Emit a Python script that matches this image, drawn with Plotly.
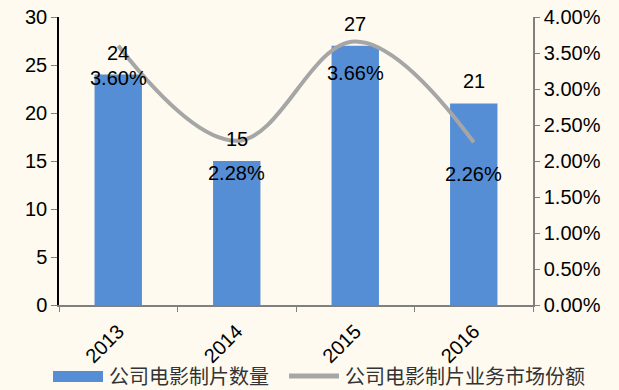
import plotly.graph_objects as go

years = ["2013", "2014", "2015", "2016"]
film_count = [24, 15, 27, 21]
market_share = [0.0360, 0.0228, 0.0366, 0.0226]
share_labels = ["3.60%", "2.28%", "3.66%", "2.26%"]
y_left_ticks = [0, 5, 10, 15, 20, 25, 30]
y_right_ticks = [0, 0.005, 0.01, 0.015, 0.02, 0.025, 0.03, 0.035, 0.04]
legend_names = ["公司电影制片数量", "公司电影制片业务市场份额"]

BG = "#FEFAF0"
BAR = "#558ED5"
LINE = "#A6A6A6"
FONT = "Liberation Sans, Arial, sans-serif"
CJK = "Noto Sans CJK SC, sans-serif"
FS = 20

fig = go.Figure()
fig.add_trace(go.Bar(
    x=years, y=film_count, marker_color=BAR, marker_line_width=0,
    width=0.4, name=legend_names[0], showlegend=False, yaxis="y",
))
fig.add_trace(go.Scatter(
    x=years, y=market_share, mode="lines", name=legend_names[1],
    line=dict(color=LINE, width=4, shape="spline", smoothing=1.1),
    yaxis="y2", showlegend=False,
))

# value labels above bars (x given as category index)
for i, v in enumerate(film_count):
    fig.add_annotation(x=i, y=v, xref="x", yref="y", text=str(v), showarrow=False,
                       yshift=22, font=dict(size=FS, color="#000", family=FONT))
# share labels below the line points
for i, (v, t) in enumerate(zip(market_share, share_labels)):
    fig.add_annotation(x=i, y=v, xref="x", yref="y2", text=t, showarrow=False,
                       yshift=-32, font=dict(size=FS, color="#000", family=FONT))

# legend drawn below the plot
LEG_Y = -(375 - 305) / 288
fig.add_shape(type="rect", xref="paper", yref="paper",
              x0=(53 - 59) / 474, x1=(103 - 59) / 474,
              y0=-(371 - 305) / 288, y1=-(382 - 305) / 288,
              fillcolor=BAR, line_width=0)
fig.add_annotation(xref="paper", yref="paper", x=(107 - 59) / 474, y=LEG_Y,
                   text=legend_names[0], showarrow=False, xanchor="left", yanchor="middle",
                   font=dict(size=20, color="#333", family=CJK))
fig.add_shape(type="line", xref="paper", yref="paper",
              x0=(289 - 59) / 474, x1=(339 - 59) / 474,
              y0=-(376 - 305) / 288, y1=-(376 - 305) / 288,
              line=dict(color=LINE, width=5))
fig.add_annotation(xref="paper", yref="paper", x=(343 - 59) / 474, y=LEG_Y,
                   text=legend_names[1], showarrow=False, xanchor="left", yanchor="middle",
                   font=dict(size=20, color="#333", family=CJK))

fig.update_layout(
    width=619, height=390,
    margin=dict(l=59, r=86, t=17, b=85),
    paper_bgcolor=BG, plot_bgcolor=BG,
    font=dict(family=FONT, size=FS, color="#000"),
    xaxis=dict(
        type="category", range=[-0.5, 3.5], autorange=False, tickangle=-45, automargin=False,
        showline=True, linecolor="#808080", linewidth=1.5, ticklabelstandoff=5,
        ticks="outside", ticklen=5, tickcolor="#808080", tickson="boundaries",
        showgrid=False, tickfont=dict(size=FS, family=FONT),
    ),
    yaxis=dict(
        range=[0, 30], tickvals=y_left_ticks, showline=True, linecolor="#000", linewidth=1.5,
        ticks="outside", ticklen=6, tickcolor="#808080", showgrid=False, zeroline=False,
        automargin=False, tickfont=dict(size=FS, family=FONT),
    ),
    yaxis2=dict(
        range=[0, 0.04], tickvals=y_right_ticks, tickformat=".2%", overlaying="y", side="right",
        showline=True, linecolor="#808080", linewidth=1.5, ticks="outside", ticklen=5,
        tickcolor="#808080", showgrid=False, zeroline=False, automargin=False,
        tickfont=dict(size=FS, family=FONT),
    ),
)

fig.write_html("out.html")
